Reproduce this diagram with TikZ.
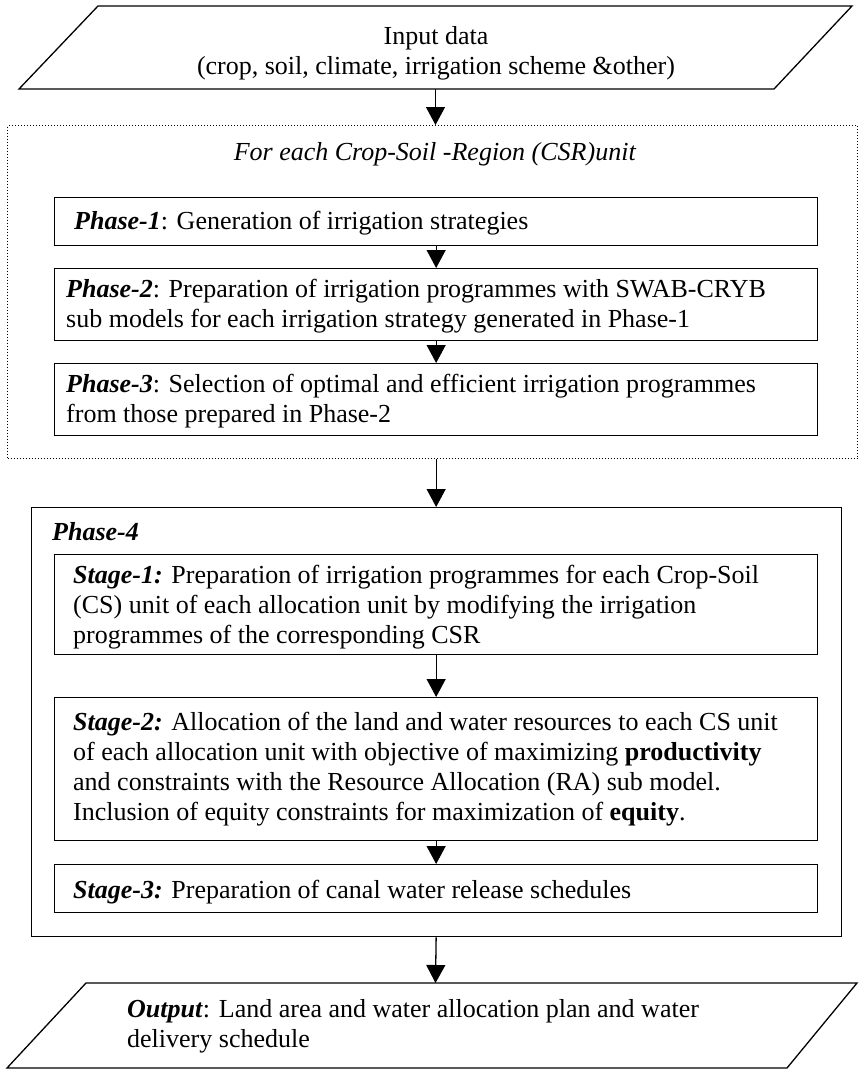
\documentclass[tikz,border=0pt]{standalone}
\usepackage{fontspec}
\setmainfont{Liberation Serif}
\usetikzlibrary{arrows.meta}
\newcommand\mlines[1]{\vtop{\baselineskip=30pt\lineskiplimit=-100pt\lineskip=0pt\halign{##\hfil\cr#1\crcr}}}
\newcommand\clines[1]{\vtop{\baselineskip=30pt\lineskiplimit=-100pt\lineskip=0pt\halign{\hfil##\hfil\cr#1\crcr}}}
\newcommand\bi[1]{\textbf{\textit{#1}}}
\begin{document}
\begin{tikzpicture}[x=1pt,y=-1pt,
  box/.style={draw, line width=1.3pt, anchor=north west, inner sep=0pt, minimum width=763pt},
  bigbox/.style={draw, line width=1.3pt, anchor=north west, inner sep=0pt},
  dotbox/.style={draw, line width=1pt, dotted, anchor=north west, inner sep=0pt},
  txt/.style={anchor=base west, inner sep=0pt, font=\fontsize{26}{30}\selectfont},
  ctxt/.style={anchor=base, inner sep=0pt, font=\fontsize{26}{30}\selectfont},
  arr/.style={line width=1.3pt, -{Triangle[length=18pt,width=19pt]}},
  para/.style={line width=1.3pt, line join=miter}]
\useasboundingbox (0,0) rectangle (859,1069);
% input parallelogram
\coordinate (inTL) at (98,6);
\coordinate (inTR) at (852,6);
\coordinate (inBR) at (774,89);
\coordinate (inBL) at (19,89);
\coordinate (inB) at (435.5,89);
\draw[para] (inTL) -- (inTR) -- (inBR) -- (inBL) -- cycle;
\node[ctxt] (tin) at (436,44) {\clines{Input data\cr(crop, soil, climate, irrigation scheme \&other)}};
% CSR dotted box
\node[dotbox, minimum width=850pt, minimum height=333pt] (csr) at (7,125) {};
\node[ctxt] (tcsr) at (435,160) {\textit{For each Crop-Soil -Region (CSR)unit}};
\node[box, minimum height=48pt] (p1) at (54,197) {};
\node[box, minimum height=72pt] (p2) at (54,268) {};
\node[box, minimum height=72pt] (p3) at (54,363) {};
\node[txt] (tp1) at (74,229) {\mlines{\bi{Phase-1}: Generation of irrigation strategies}};
\node[txt] (tp2) at (66,297) {\mlines{\bi{Phase-2}: Preparation of irrigation programmes with SWAB-CRYB\cr sub models for each irrigation strategy generated in Phase-1}};
\node[txt] (tp3) at (66,392) {\mlines{\bi{Phase-3}: Selection of optimal and efficient irrigation programmes\cr from those prepared in Phase-2}};
% Phase-4
\node[bigbox, minimum width=810pt, minimum height=429pt] (ph4) at (31,507) {};
\node[txt] (tph4) at (52,540) {\bi{Phase-4}};
\node[box, minimum height=100pt] (s1) at (54,554) {};
\node[box, minimum height=143pt] (s2) at (54,697) {};
\node[box, minimum height=48pt] (s3) at (54,864) {};
\node[txt] (ts1) at (73,583) {\mlines{\bi{Stage-1:} Preparation of irrigation programmes for each Crop-Soil\cr (CS) unit of each allocation unit by modifying the irrigation\cr programmes of the corresponding CSR}};
\node[txt] (ts2) at (73,730) {\mlines{\bi{Stage-2:} Allocation of the land and water resources to each CS unit\cr of each allocation unit with objective of maximizing \textbf{productivity}\cr and constraints with the Resource Allocation (RA) sub model.\cr Inclusion of equity constraints for maximization of \textbf{equity}.}};
\node[txt] (ts3) at (73,898) {\mlines{\bi{Stage-3:} Preparation of canal water release schedules}};
% output parallelogram
\coordinate (outTL) at (86,983);
\coordinate (outTR) at (857,983);
\coordinate (outBR) at (787,1068);
\coordinate (outBL) at (7,1068);
\coordinate (outT) at (435.5,983);
\draw[para] (outTL) -- (outTR) -- (outBR) -- (outBL) -- cycle;
\node[txt] (tout) at (127,1017) {\mlines{\bi{Output}: Land area and water allocation plan and water\cr delivery schedule}};
% connectors
\draw[arr] (inB) -- (inB |- csr.north);
\draw[arr] (p1.south) -- (p2.north);
\draw[arr] (p2.south) -- (p3.north);
\draw[arr] (p3.south |- csr.south) -- (p3.south |- ph4.north);
\draw[arr] (s1.south) -- (s2.north);
\draw[arr] (s2.south) -- (s3.north);
\draw[arr] (s3.south |- ph4.south) -- (outT);
\end{tikzpicture}
\end{document}
